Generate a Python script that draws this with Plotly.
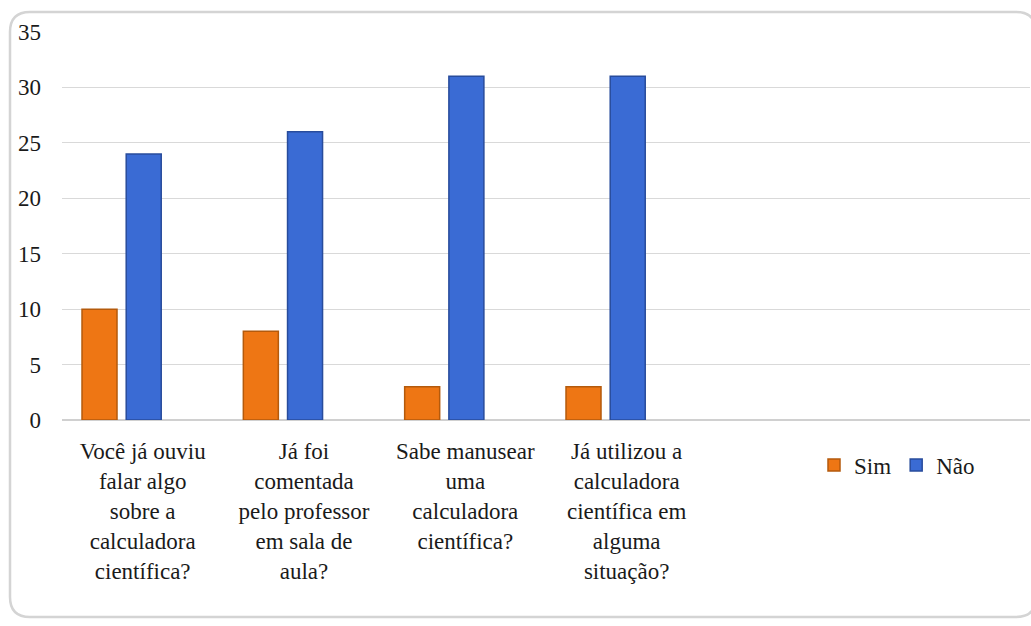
import plotly.graph_objects as go

categories = [
    "Você já ouviu<br>falar algo<br>sobre a<br>calculadora<br>científica?",
    "Já foi<br>comentada<br>pelo professor<br>em sala de<br>aula?",
    "Sabe manusear<br>uma<br>calculadora<br>científica?",
    "Já utilizou a<br>calculadora<br>científica em<br>alguma<br>situação?",
]
sim = [10, 8, 3, 3]
nao = [24, 26, 31, 31]
y_ticks = [0, 5, 10, 15, 20, 25, 30, 35]

W, H = 1031, 626
L, R, T, B = 62, 1, 32, 206
PW, PH = W - L - R, H - T - B

xs = list(range(len(categories)))
FONT = "Liberation Serif"

fig = go.Figure()
fig.add_trace(go.Bar(
    x=xs, y=sim, name="Sim", width=0.217, offset=-0.376,
    marker=dict(color="#EE7614", line=dict(color="#B45A0C", width=1.5)),
))
fig.add_trace(go.Bar(
    x=xs, y=nao, name="Não", width=0.217, offset=-0.102,
    marker=dict(color="#3A6BD4", line=dict(color="#284C9C", width=1.5)),
))

def px(xp):
    return (xp - L) / PW

def py(yp):
    return (H - B - yp) / PH

# rounded frame
x0, x1, y0, y1, r = 10, 1036, 12, 617, 20
path = (
    f"M {px(x0 + r)} {py(y0)} L {px(x1 - r)} {py(y0)} "
    f"Q {px(x1)} {py(y0)} {px(x1)} {py(y0 + r)} L {px(x1)} {py(y1 - r)} "
    f"Q {px(x1)} {py(y1)} {px(x1 - r)} {py(y1)} L {px(x0 + r)} {py(y1)} "
    f"Q {px(x0)} {py(y1)} {px(x0)} {py(y1 - r)} L {px(x0)} {py(y0 + r)} "
    f"Q {px(x0)} {py(y0)} {px(x0 + r)} {py(y0)} Z"
)
fig.add_shape(type="path", path=path, xref="paper", yref="paper",
              line=dict(color="#D4D4D4", width=2.5), layer="below")

fig.update_layout(
    width=W, height=H,
    margin=dict(l=L, r=R, t=T, b=B),
    paper_bgcolor="white", plot_bgcolor="white",
    font=dict(family=FONT, size=23, color="#1a1a1a"),
    showlegend=True,
    legend=dict(orientation="h", x=px(814), y=py(465), xanchor="left", yanchor="middle",
                font=dict(family=FONT, size=23, color="#1a1a1a"),
                bgcolor="rgba(0,0,0,0)", itemwidth=30, tracegroupgap=0),
    xaxis=dict(range=[-0.5, 5.5], tickvals=xs, ticktext=categories,
               showgrid=False, zeroline=False, showline=False, ticks="",
               ticklabelstandoff=15, tickangle=0,
               tickfont=dict(family=FONT, size=23, color="#1a1a1a")),
    yaxis=dict(range=[0, 35], tickvals=y_ticks, showgrid=True, gridcolor="#D9D9D9",
               gridwidth=1.3, zeroline=True, zerolinecolor="#D0D0D0", zerolinewidth=2,
               showline=False, ticks="", ticklabelstandoff=20,
               tickfont=dict(family=FONT, size=23, color="#1a1a1a")),
)

fig.write_html("out.html")
